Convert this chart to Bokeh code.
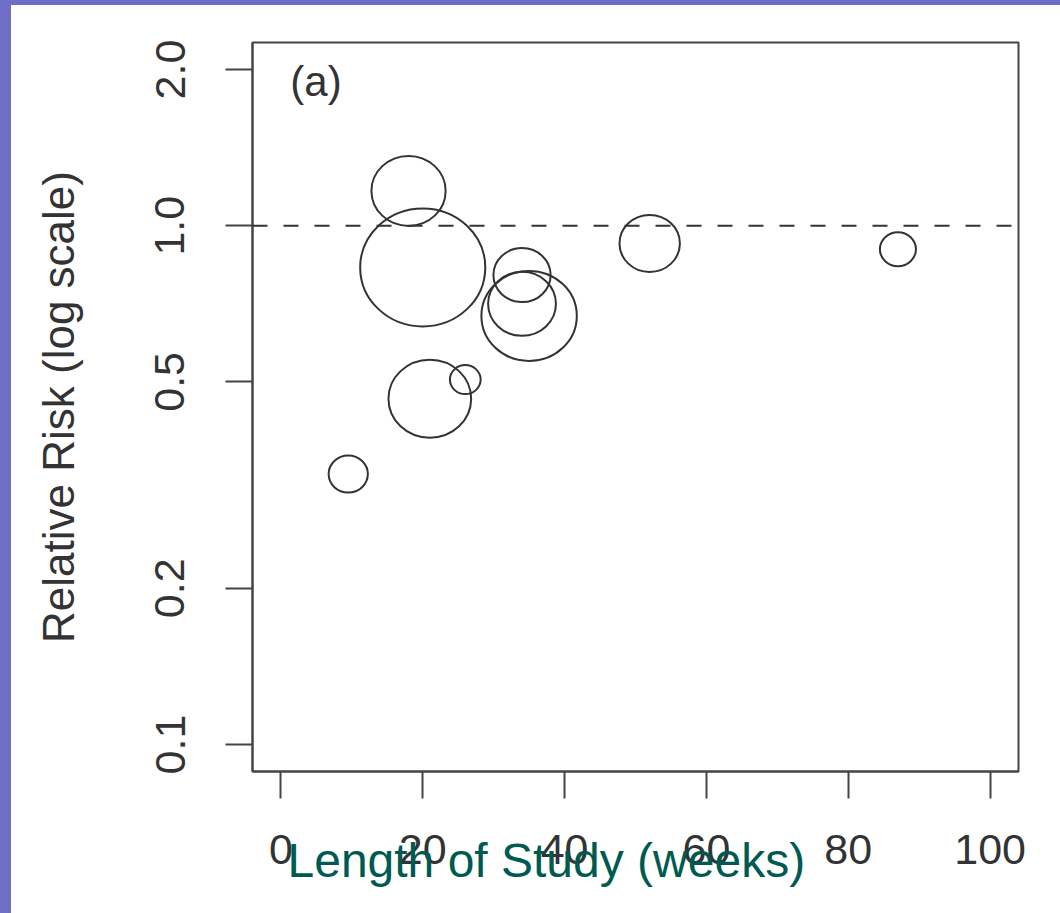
import math
from bokeh.plotting import figure
from bokeh.models import (ColumnDataSource, FixedTicker, Span, Label, Range1d, Div,
                          Title)
from bokeh.layouts import column, row
from bokeh.embed import file_html
from bokeh.resources import INLINE

# ---- data ----
weeks = [9.5, 18, 20, 34, 34, 35, 21, 26, 52, 87]
rel_risk = [0.332, 1.167, 0.831, 0.803, 0.707, 0.670, 0.464, 0.505, 0.924, 0.901]
study_size = [37, 70, 118, 54, 64, 90, 78, 29, 57, 34]   # relative bubble size

x_ticks = [0, 20, 40, 60, 80, 100]
y_ticks = [0.1, 0.2, 0.5, 1.0, 2.0]
y_tick_labels = ["0.1", "0.2", "0.5", "1.0", "2.0"]
reference_rr = 1.0
panel_tag = "(a)"
x_title = "Length of Study (weeks)"
y_title = "Relative Risk (log scale)"

# ---- styling ----
FONT = "Liberation Sans"
INK = "#333333"
FRAME = "#444444"
PURPLE = "#6e6ec8"
TEAL = "#005a50"
STRETCH = 1.06

h = [s for s in study_size]
w = [s * STRETCH for s in study_size]
src = ColumnDataSource(dict(x=weeks, y=rel_risk, w=w, h=h))

ymin, ymax = min(y_ticks), max(y_ticks)
lspan = math.log10(ymax) - math.log10(ymin)
y0 = 10 ** (math.log10(ymin) - 0.04 * lspan)
y1 = 10 ** (math.log10(ymax) + 0.04 * lspan)
xspan = x_ticks[-1] - x_ticks[0]

p = figure(width=1049, height=908, y_axis_type="log",
           x_range=Range1d(x_ticks[0] - 0.04 * xspan, x_ticks[-1] + 0.04 * xspan),
           y_range=Range1d(y0, y1),
           output_backend="svg", toolbar_location=None,
           min_border_left=241, min_border_right=42,
           min_border_top=37, min_border_bottom=142)

p.background_fill_color = "white"
p.border_fill_color = "white"
p.outline_line_color = FRAME
p.outline_line_width = 2
p.xgrid.visible = False
p.ygrid.visible = False

p.ellipse(x="x", y="y", width="w", height="h", source=src,
          width_units="screen", height_units="screen",
          fill_color=None, line_color=INK, line_width=2)

p.add_layout(Span(location=reference_rr, dimension="width", line_color=INK,
                  line_width=2, line_dash="15 16"))

for ax in (p.xaxis[0], p.yaxis[0]):
    ax.axis_line_color = FRAME
    ax.axis_line_width = 2
    ax.major_tick_line_color = FRAME
    ax.major_tick_line_width = 2
    ax.major_tick_out = 27
    ax.major_tick_in = 0
    ax.minor_tick_line_color = None
    ax.major_label_text_font = FONT
    ax.major_label_text_font_size = "43px"
    ax.major_label_text_color = INK

p.xaxis.major_label_standoff = 36
p.yaxis.major_label_standoff = 41

p.xaxis.ticker = FixedTicker(ticks=x_ticks)
p.yaxis.ticker = FixedTicker(ticks=y_ticks)
p.yaxis.major_label_overrides = {t: l for t, l in zip(y_ticks, y_tick_labels)}
p.yaxis.major_label_orientation = "vertical"

p.yaxis.axis_label = y_title
p.yaxis.axis_label_text_font = FONT
p.yaxis.axis_label_text_font_size = "44px"
p.yaxis.axis_label_text_font_style = "normal"
p.yaxis.axis_label_text_color = INK
p.yaxis.axis_label_standoff = 70

# x title overlapping the tick labels, shifted left as in the original
x_title_box = Title(text=x_title, align="left", offset=35, vertical_align="top",
                    standoff=-66, text_font=FONT, text_font_size="48px",
                    text_font_style="normal", text_color=TEAL)
p.add_layout(x_title_box, "below")

p.add_layout(Label(x=4.95, y=1.9, text=panel_tag, text_align="center",
                   text_baseline="middle", text_font=FONT,
                   text_font_size="42px", text_color=INK))

top_strip = Div(text="", width=1060, height=5, margin=0,
                styles={"background-color": PURPLE})
left_strip = Div(text="", width=11, height=908, margin=0,
                 styles={"background-color": PURPLE})
layout = column(top_strip, row(left_strip, p, spacing=0), spacing=0)

open("out.html", "w").write(file_html(layout, INLINE))
